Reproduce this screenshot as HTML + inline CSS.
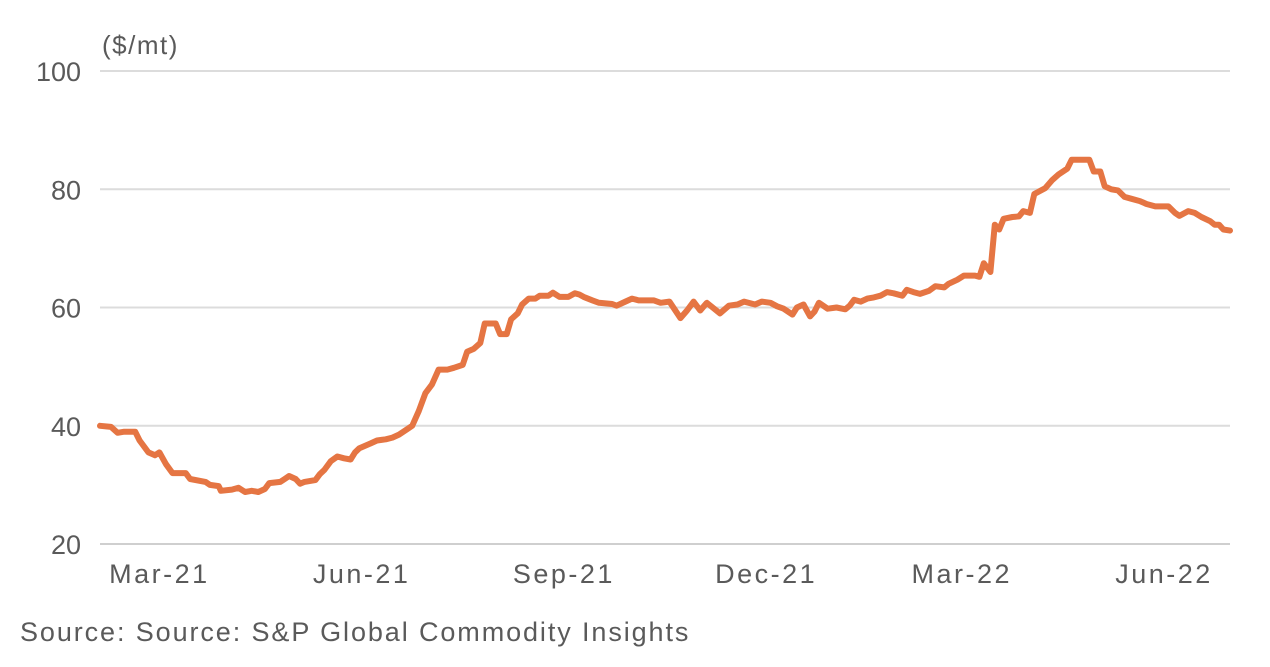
<!DOCTYPE html>
<html><head><meta charset="utf-8">
<style>
html,body{margin:0;padding:0;background:#fff;}
svg text{font-family:"Liberation Sans",sans-serif;fill:#5a5a5a;}
</style></head>
<body>
<svg id="chart" width="1270" height="662" viewBox="0 0 1270 662" xmlns="http://www.w3.org/2000/svg">
<g id="grid"></g>
<g id="yaxis"></g>
<g id="xaxis"></g>
<text x="102" y="54" font-size="26" letter-spacing="1.5">($/mt)</text>
<path id="line" fill="none" stroke="#e57543" stroke-width="6" stroke-linejoin="round" stroke-linecap="round"/>
<text x="20" y="641" font-size="27" letter-spacing="1.9">Source: Source: S&amp;P Global Commodity Insights</text>
</svg>
<script>
const days=[0,5,8,11,16,18,22,25,27,30,33,39,41,48,50,54,55,60,63,66,69,72,75,77,82,84,86,89,91,93,98,100,102,105,108,111,114,116,118,123,126,130,133,136,140,142,145,148,151,154,158,161,165,167,170,173,175,180,182,185,187,190,192,195,198,200,204,206,209,213,216,218,220,224,227,233,235,239,242,245,252,255,259,264,267,270,273,276,278,282,286,290,293,298,301,305,308,311,315,317,320,323,325,327,331,335,339,341,343,346,349,352,355,358,361,365,367,370,373,377,380,384,386,390,393,398,400,402,405,407,409,411,415,418,420,423,425,430,433,436,440,442,450,452,455,457,460,463,466,469,473,476,480,486,489,491,495,498,501,505,507,509,511,514];
const prices=[40,39.8,38.8,39,39,37.5,35.5,35,35.5,33.5,32,32,31,30.5,30,29.8,29,29.2,29.5,28.8,29,28.8,29.3,30.3,30.5,31,31.5,31,30.2,30.5,30.8,31.8,32.5,34,34.8,34.5,34.3,35.5,36.2,37,37.5,37.7,38,38.5,39.5,40,42.5,45.5,47,49.5,49.5,49.8,50.3,52.5,53,54,57.3,57.3,55.5,55.5,58,59,60.5,61.5,61.5,62,62,62.5,61.8,61.8,62.4,62.2,61.8,61.2,60.8,60.6,60.3,61,61.5,61.2,61.2,60.8,61,58.2,59.5,61,59.5,60.8,60.2,59,60.3,60.5,61,60.5,61,60.8,60.2,59.8,58.8,60,60.5,58.5,59.3,60.8,59.8,60,59.7,60.3,61.3,61,61.5,61.7,62,62.6,62.4,62,63,62.6,62.3,62.8,63.6,63.4,64,64.7,65.4,65.4,65.2,67.5,66,74,73.2,75,75.3,75.4,76.3,76,79.2,80.2,81.5,82.5,83.5,85,85,83,83,80.5,80,79.8,78.7,78.4,78,77.5,77.1,77.1,76,75.5,76.3,76,75.3,74.6,74,74,73.2,73];
const yTicks=[20,40,60,80,100];
const xTickDays=[27,119,211,303,392,484];
const xTickLabels=["Mar-21","Jun-21","Sep-21","Dec-21","Mar-22","Jun-22"];

const X0=100,X1=1230,D0=0,D1=514;
const Y0=544,Y1=71,V0=20,V1=100;
const xs=d=>X0+(d-D0)/(D1-D0)*(X1-X0);
const ys=v=>Y0-(v-V0)/(V1-V0)*(Y0-Y1);
const NS="http://www.w3.org/2000/svg";
const grid=document.getElementById('grid'),ya=document.getElementById('yaxis'),xa=document.getElementById('xaxis');
yTicks.forEach(t=>{
  const l=document.createElementNS(NS,'line');
  l.setAttribute('x1',X0);l.setAttribute('x2',X1);
  l.setAttribute('y1',ys(t));l.setAttribute('y2',ys(t));
  l.setAttribute('stroke',t===20?'#cfcfcf':'#dcdcdc');l.setAttribute('stroke-width',2);
  
  
  grid.appendChild(l);
  const tx=document.createElementNS(NS,'text');
  tx.setAttribute('x',81);tx.setAttribute('y',ys(t)+10);
  tx.setAttribute('text-anchor','end');tx.setAttribute('font-size','27');
  tx.setAttribute('letter-spacing','0');
  tx.textContent=t;
  
  
  ya.appendChild(tx);
});
xTickDays.forEach((d,i)=>{
  const tx=document.createElementNS(NS,'text');
  tx.setAttribute('x',xs(d));tx.setAttribute('y',583);
  tx.setAttribute('text-anchor','middle');tx.setAttribute('font-size','27');
  tx.setAttribute('letter-spacing','2.5');
  tx.textContent=xTickLabels[i];
  
  
  xa.appendChild(tx);
});
let dstr='';
days.forEach((d,i)=>{dstr+=(i?'L':'M')+xs(d).toFixed(1)+' '+ys(prices[i]).toFixed(1);});
document.getElementById('line').setAttribute('d',dstr);
</script>
</body></html>
